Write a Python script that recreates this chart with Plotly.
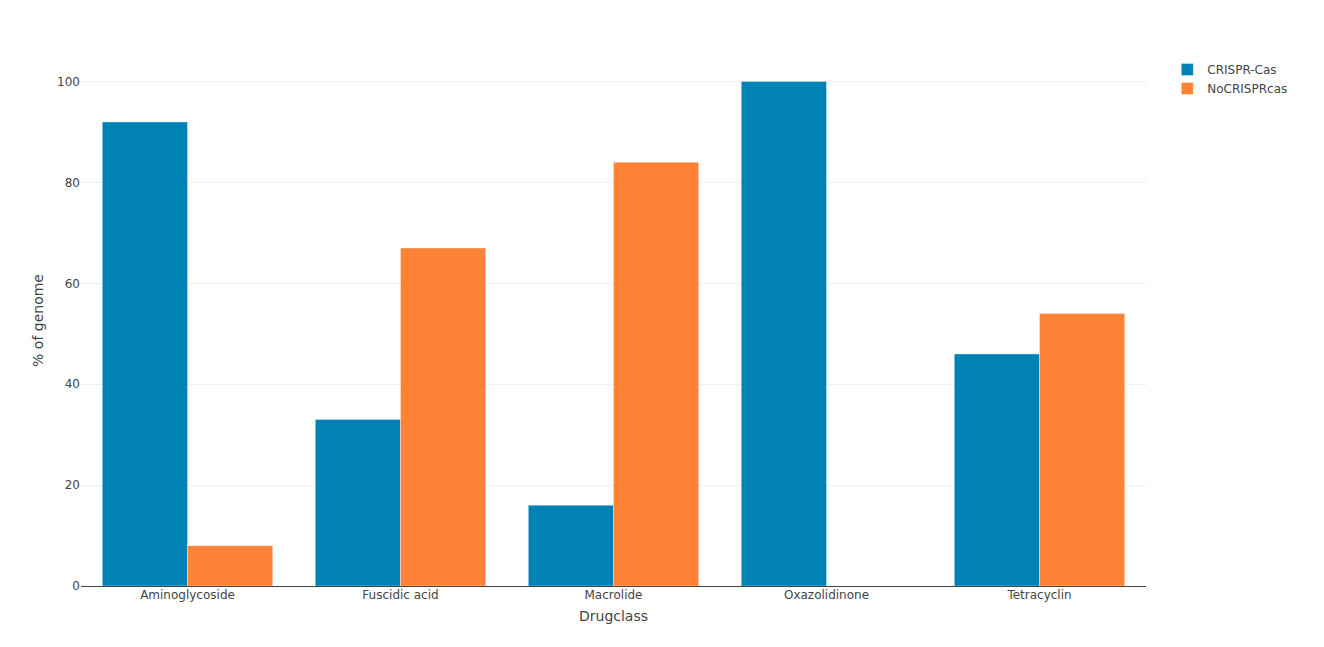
import plotly.graph_objects as go

categories = ["Aminoglycoside", "Fuscidic acid", "Macrolide", "Oxazolidinone", "Tetracyclin"]
crispr_cas = [92, 33, 16, 100, 46]
no_crispr = [8, 67, 84, 0, 54]

font_family = "Verdana, DejaVu Sans, sans-serif"

fig = go.Figure()
fig.add_trace(go.Bar(x=categories, y=crispr_cas, name="CRISPR-Cas",
                     marker=dict(color="#0082B4", line=dict(color="rgba(255,255,255,0.5)", width=0.7))))
fig.add_trace(go.Bar(x=categories, y=no_crispr, name="NoCRISPRcas",
                     marker=dict(color="#FF8336", line=dict(color="rgba(255,255,255,0.5)", width=0.7))))

fig.update_layout(
    template="none",
    barmode="group",
    bargap=0.2,
    width=1308, height=631,
    margin=dict(l=73, r=170, t=47, b=53),
    paper_bgcolor="white", plot_bgcolor="white",
    font=dict(family=font_family, size=12, color="#444"),
    legend=dict(x=1.02, y=1, xanchor="left", yanchor="top", font=dict(size=12)),
    xaxis=dict(title=dict(text="Drugclass", font=dict(size=14), standoff=9), showline=True, linecolor="#444",
               linewidth=1, showgrid=False, ticks="", ticklen=0, ticklabelstandoff=-2,
               zeroline=False, automargin=False),
    yaxis=dict(title=dict(text="% of genome", font=dict(size=14)), showgrid=True, gridcolor="#eee",
               zeroline=False, showline=False, ticks="", tickvals=[0, 20, 40, 60, 80, 100]),
)

fig.write_html("out.html")
